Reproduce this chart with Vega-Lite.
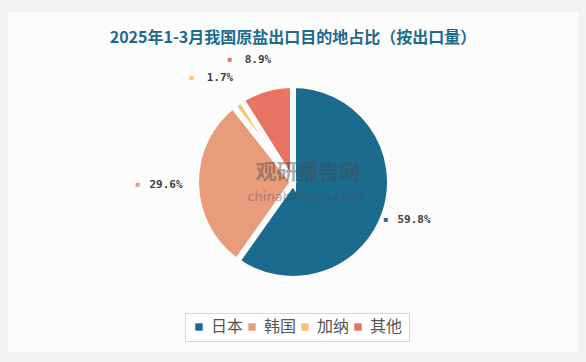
{
  "$schema": "https://vega.github.io/schema/vega-lite/v6.json",
  "width": 570,
  "height": 340,
  "autosize": {"type": "none"},
  "padding": {"left": 8, "top": 12, "right": 8, "bottom": 10},
  "background": "#f3f3f3",
  "view": {"fill": "#fcfcfc", "stroke": null},
  "title": {
    "text": "2025年1-3月我国原盐出口目的地占比（按出口量）",
    "offset": -34,
    "anchor": "middle",
    "font": "Noto Sans CJK SC",
    "fontSize": 16,
    "fontWeight": "bold",
    "color": "#1d6a8e"
  },
  "datasets": {
    "shares": [
      {"name": "日本", "value": 59.8, "label": "59.8%", "rank": 1},
      {"name": "韩国", "value": 29.6, "label": "29.6%", "rank": 2},
      {"name": "加纳", "value": 1.7, "label": "1.7%", "rank": 3},
      {"name": "其他", "value": 8.9, "label": "8.9%", "rank": 4}
    ],
    "mark1": [{"t": "观研报告网"}],
    "mark2": [{"t": "chinabaogao.com"}]
  },
  "layer": [
    {
      "data": {"name": "shares"},
      "mark": {"type": "arc", "outerRadius": 97, "stroke": "#fcfcfc", "strokeWidth": 6},
      "encoding": {
        "theta": {"field": "value", "type": "quantitative", "stack": true},
        "order": {"field": "rank", "type": "quantitative"},
        "color": {
          "field": "name",
          "type": "nominal",
          "scale": {"domain": ["日本", "韩国", "加纳", "其他"], "range": ["#1b6b8f", "#e89c7b", "#fcc070", "#e87463"]},
          "legend": {
            "title": null,
            "orient": "none",
            "legendX": 177,
            "legendY": 301,
            "direction": "horizontal",
            "columns": 4,
            "symbolType": "square",
            "symbolSize": 55,
            "symbolStrokeWidth": 0,
            "labelFont": "Noto Sans CJK SC",
            "labelFontSize": 16,
            "labelColor": "#555555",
            "labelOffset": 4,
            "columnPadding": 0,
            "padding": 6,
            "strokeColor": "#d6d6d6",
            "fillColor": "#ffffff"
          }
        }
      }
    },
    {
      "data": {"name": "mark1"},
      "mark": {"type": "text", "font": "Noto Sans CJK SC", "fontSize": 21, "fontWeight": "bold", "color": "#4a4a4a", "opacity": 0.45, "dx": 15, "dy": -9},
      "encoding": {"text": {"field": "t"}}
    },
    {
      "data": {"name": "mark2"},
      "mark": {"type": "text", "font": "DejaVu Sans", "fontSize": 13, "color": "#4a4a4a", "opacity": 0.4, "dx": 12, "dy": 15},
      "encoding": {"text": {"field": "t"}}
    },
    {
      "data": {"name": "shares"},
      "mark": {"type": "text", "radius": 127, "font": "DejaVu Sans Mono", "fontSize": 11, "fontWeight": "bold", "color": "#404040", "align": "center"},
      "encoding": {
        "theta": {"field": "value", "type": "quantitative", "stack": true},
        "order": {"field": "rank", "type": "quantitative"},
        "text": {"field": "label"}
      }
    },
    {
      "data": {"name": "shares"},
      "mark": {"type": "text", "radius": 127, "fontSize": 8, "align": "center", "dx": -28},
      "encoding": {
        "theta": {"field": "value", "type": "quantitative", "stack": true},
        "order": {"field": "rank", "type": "quantitative"},
        "text": {"value": "■"},
        "color": {"field": "name", "type": "nominal", "legend": null}
      }
    }
  ]
}
